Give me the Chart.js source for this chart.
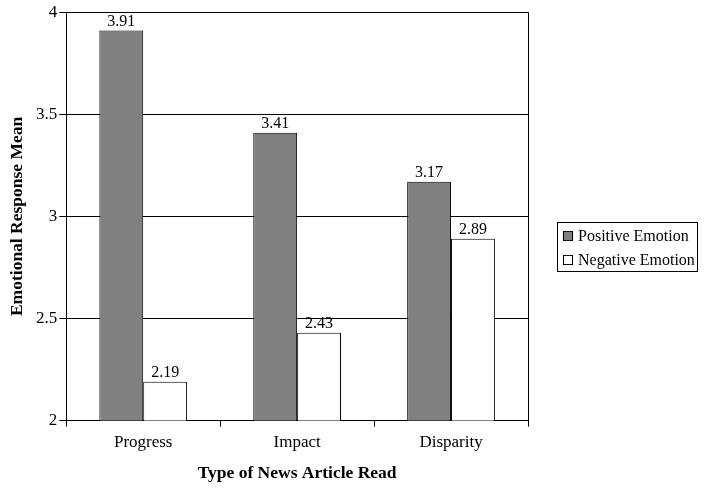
<!DOCTYPE html>
<html>
<head>
<meta charset="utf-8">
<script src="https://cdn.jsdelivr.net/npm/chart.js@4"></script>
<style>
  html, body { margin: 0; padding: 0; background: #fff; }
  #wrap { width: 704px; height: 489px; }
</style>
</head>
<body>
<div id="wrap"><canvas id="chart" width="704" height="489"></canvas></div>
<script>
const categories = ['Progress', 'Impact', 'Disparity'];
const positiveValues = [3.91, 3.41, 3.17];
const negativeValues = [2.19, 2.43, 2.89];
const seriesNames = ['Positive Emotion', 'Negative Emotion'];
const yTicks = [2, 2.5, 3, 3.5, 4];

const serif = "'Liberation Serif', 'Times New Roman', serif";

// Zahlen über den Balken
const valueLabels = {
  id: 'valueLabels',
  afterDatasetsDraw(chart) {
    const ctx = chart.ctx;
    ctx.save();
    ctx.font = '16px ' + serif;
    ctx.fillStyle = '#000';
    ctx.textAlign = 'center';
    ctx.textBaseline = 'bottom';
    chart.data.datasets.forEach((ds, i) => {
      chart.getDatasetMeta(i).data.forEach((bar, j) => {
        ctx.fillText(ds.data[j].toFixed(2), bar.x, bar.y - 1);
      });
    });
    ctx.restore();
  }
};

// Rahmen rechts + eigene Legende mit Rahmen
const frame = {
  id: 'frame',
  afterDraw(chart) {
    const ctx = chart.ctx;
    const a = chart.chartArea;
    ctx.save();
    ctx.strokeStyle = '#000';
    ctx.lineWidth = 1;
    ctx.beginPath();
    ctx.moveTo(Math.round(a.right) + 0.5, a.top);
    ctx.lineTo(Math.round(a.right) + 0.5, a.bottom);
    ctx.stroke();

    // Legende
    const lx = Math.round(a.right) + 29;
    const ly = 222;
    ctx.strokeRect(lx + 0.5, ly + 0.5, 140, 49);
    ctx.font = '16px ' + serif;
    ctx.textAlign = 'left';
    ctx.textBaseline = 'middle';
    chart.data.datasets.forEach((ds, i) => {
      const cy = ly + 14 + i * 24;
      ctx.fillStyle = ds.backgroundColor;
      ctx.fillRect(lx + 6.5, cy - 4.5, 9, 9);
      ctx.strokeStyle = ds.borderColor;
      ctx.strokeRect(lx + 6.5, cy - 4.5, 9, 9);
      ctx.fillStyle = '#000';
      ctx.fillText(ds.label, lx + 21, cy + 1);
    });
    ctx.restore();
  }
};

new Chart(document.getElementById('chart'), {
  type: 'bar',
  data: {
    labels: categories,
    datasets: [
      {
        label: seriesNames[0],
        data: positiveValues,
        backgroundColor: '#808080',
        borderColor: '#000',
        borderWidth: 1
      },
      {
        label: seriesNames[1],
        data: negativeValues,
        backgroundColor: '#ffffff',
        borderColor: '#000',
        borderWidth: 1
      }
    ]
  },
  options: {
    responsive: false,
    animation: false,
    layout: { padding: { top: 8, right: 176, left: 0, bottom: 4 } },
    datasets: {
      bar: { categoryPercentage: 0.57, barPercentage: 1 }
    },
    plugins: {
      tooltip: { enabled: false },
      legend: { display: false }
    },
    scales: {
      x: {
        grid: {
          offset: true,
          drawOnChartArea: false,
          drawTicks: true,
          tickLength: 6,
          color: '#000'
        },
        border: { color: '#000', width: 1 },
        ticks: {
          color: '#000',
          font: { family: serif, size: 17 },
          padding: 6
        },
        title: {
          display: true,
          text: 'Type of News Article Read',
          color: '#000',
          font: { family: serif, size: 17.5, weight: 'bold' },
          padding: { top: 4, bottom: 1 }
        }
      },
      y: {
        min: 2,
        max: 4,
        afterBuildTicks: (axis) => { axis.ticks = yTicks.map(v => ({ value: v })); },
        grid: {
          color: '#000',
          lineWidth: 1,
          tickLength: 7
        },
        border: { color: '#000', width: 1 },
        ticks: {
          color: '#000',
          font: { family: serif, size: 17 },
          padding: 2,
          callback: (v) => String(v)
        },
        title: {
          display: true,
          text: 'Emotional Response Mean',
          color: '#000',
          font: { family: serif, size: 17.5, weight: 'bold' },
          padding: { top: 7, bottom: 6 }
        }
      }
    }
  },
  plugins: [valueLabels, frame]
});
</script>
</body>
</html>
